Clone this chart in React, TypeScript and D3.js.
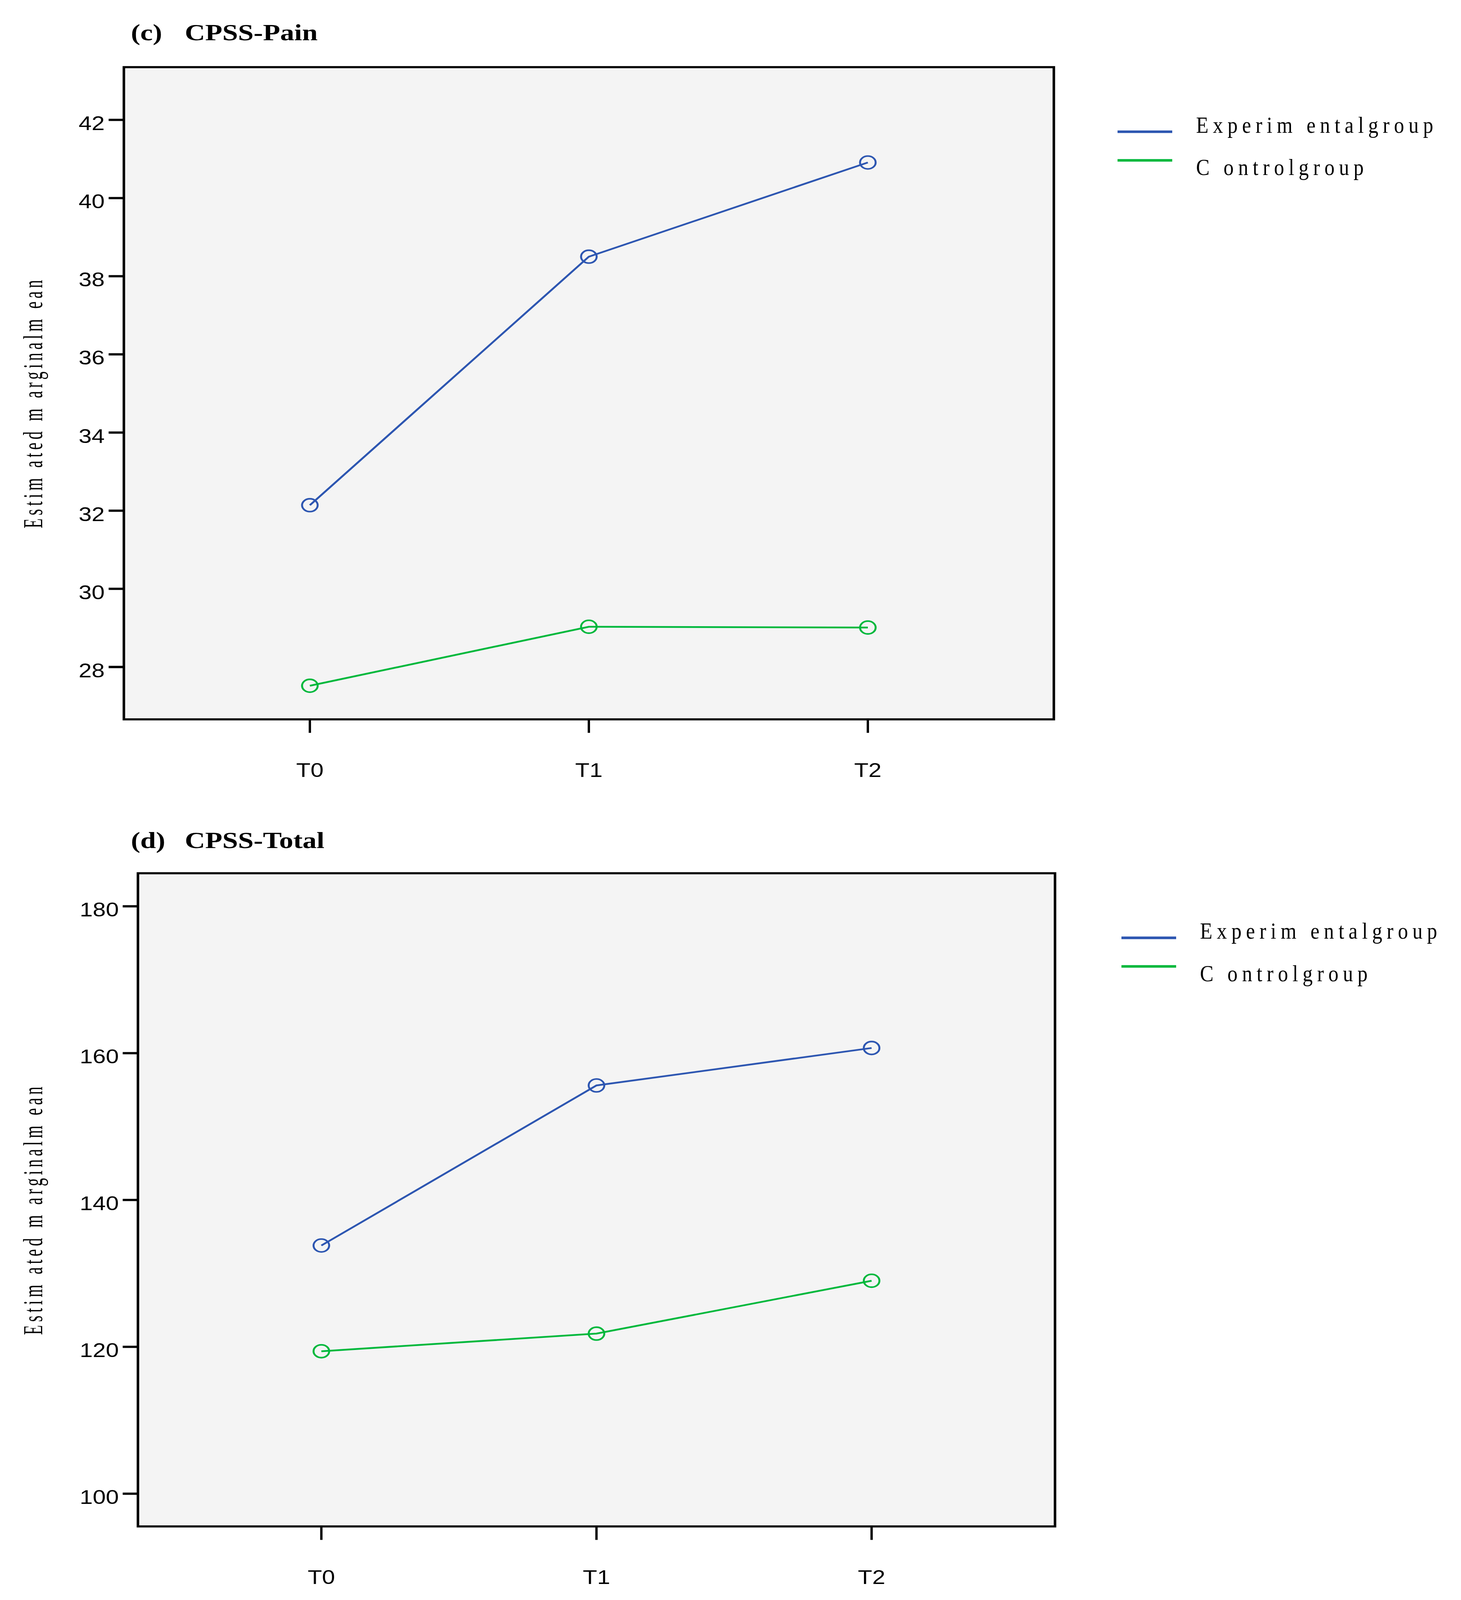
import * as d3 from 'd3'
import React from 'react'

// time points on the x axis
const timepoints = ['T0', 'T1', 'T2']
const groupNames = ['Experim entalgroup', 'C ontrolgroup']
const yAxisLabel = 'Estim ated m arginalm ean'

// (c) CPSS-Pain
const painExperimental = [32.14, 38.5, 40.91]
const painControl = [27.52, 29.03, 29.01]
const painTicks = [28, 30, 32, 34, 36, 38, 40, 42]

// (d) CPSS-Total
const totalExperimental = [133.8, 155.6, 160.7]
const totalControl = [119.4, 121.8, 129.0]
const totalTicks = [100, 120, 140, 160, 180]

const colors = ['#2d56b1', '#00b83c']
const W = 3739
const H = 4980

interface IPanel {
    tag: string
    title: string
    series: number[][]
    ticks: number[]
    domain: [number, number]
    x0: number
    x1: number
    y0: number
    y1: number
    titleY: number
    legendX: number
}

const panels: IPanel[] = [
    {
        tag: '(c)',
        title: 'CPSS-Pain',
        series: [painExperimental, painControl],
        ticks: painTicks,
        domain: [26.66, 43.35],
        x0: 317,
        x1: 2697,
        y0: 209,
        y1: 2239,
        titleY: 125,
        legendX: 2860,
    },
    {
        tag: '(d)',
        title: 'CPSS-Total',
        series: [totalExperimental, totalControl],
        ticks: totalTicks,
        domain: [95.54, 184.5],
        x0: 353,
        x1: 2700,
        y0: 2718,
        y1: 4751,
        titleY: 2640,
        legendX: 2870,
    },
]

const sans = '"Liberation Sans", Arial, sans-serif'
const serif = '"Liberation Serif", "Times New Roman", serif'

const Panel: React.FC<{ p: IPanel }> = ({ p }) => {
    const x = d3.scalePoint<string>().domain(timepoints).range([p.x0, p.x1]).padding(2 / 3)
    const y = d3.scaleLinear().domain(p.domain).range([p.y1, p.y0])
    const line = d3
        .line<number>()
        .x((d, i) => x(timepoints[i]) as number)
        .y((d) => y(d))

    const midY = (p.y0 + p.y1) / 2 + 34

    return (
        <g>
            {/* title */}
            <text x={335} y={p.titleY} fontFamily={serif} fontWeight="bold" fontSize={72}>
                {p.tag}
            </text>
            <text x={473} y={p.titleY} fontFamily={serif} fontWeight="bold" fontSize={72}>
                {p.title}
            </text>

            {/* plot area */}
            <rect
                x={p.x0}
                y={p.y0}
                width={p.x1 - p.x0}
                height={p.y1 - p.y0}
                fill="#f4f4f4"
                stroke="#000"
                strokeWidth={6.5}
            />

            {/* y axis */}
            {p.ticks.map((t) => (
                <g key={t}>
                    <line x1={p.x0 - 39} x2={p.x0} y1={y(t)} y2={y(t)} stroke="#000" strokeWidth={7} />
                    <text
                        x={p.x0 - 49}
                        y={y(t) + 32}
                        textAnchor="end"
                        fontFamily={sans}
                        fontSize={60}
                    >
                        {t}
                    </text>
                </g>
            ))}

            {/* x axis */}
            {timepoints.map((t) => (
                <g key={t}>
                    <line
                        x1={x(t)}
                        x2={x(t)}
                        y1={p.y1 + 2}
                        y2={p.y1 + 42}
                        stroke="#000"
                        strokeWidth={6}
                    />
                    <text
                        x={x(t)}
                        y={p.y1 + 179}
                        textAnchor="middle"
                        fontFamily={sans}
                        fontSize={60}
                    >
                        {t}
                    </text>
                </g>
            ))}

            {/* y label */}
            <text
                transform={`translate(108,${midY}) rotate(-90) scale(0.72,1)`}
                textAnchor="middle"
                fontFamily={serif}
                fontSize={70}
                textLength={773 / 0.72}
                lengthAdjust="spacing"
            >
                {yAxisLabel}
            </text>

            {/* series */}
            {p.series.map((s, si) => (
                <g key={si}>
                    <path d={line(s) || ''} fill="none" stroke={colors[si]} strokeWidth={5.5} />
                    {s.map((v, i) => (
                        <circle
                            key={i}
                            cx={x(timepoints[i])}
                            cy={y(v)}
                            r={20}
                            fill="none"
                            stroke={colors[si]}
                            strokeWidth={5}
                        />
                    ))}
                </g>
            ))}

            {/* legend */}
            {groupNames.map((g, gi) => {
                const ly = p.y0 + (gi === 0 ? 201 : 290)
                const ty = p.y0 + (gi === 0 ? 204 : 336)
                const len = gi === 0 ? 607 : 429
                return (
                    <g key={g}>
                        <line
                            x1={p.legendX}
                            x2={p.legendX + 140}
                            y1={ly}
                            y2={ly}
                            stroke={colors[gi]}
                            strokeWidth={8}
                        />
                        <text
                            transform={`translate(${p.legendX + 201},${ty}) scale(0.72,1)`}
                            fontFamily={serif}
                            fontSize={72}
                            textLength={len / 0.72}
                            lengthAdjust="spacing"
                        >
                            {g}
                        </text>
                    </g>
                )
            })}
        </g>
    )
}

export default function App() {
    // the visible viewport can be shorter than the figure; stretch the drawing to fill it
    const viewH = Math.min(H, window.innerHeight || H)

    return (
        <svg
            width={W}
            height={viewH}
            viewBox={`0 0 ${W} ${H}`}
            preserveAspectRatio="none"
            style={{ display: 'block', margin: -8, background: '#fff' }}
        >
            <rect width={W} height={H} fill="#fff" />
            {panels.map((p) => (
                <Panel key={p.tag} p={p} />
            ))}
        </svg>
    )
}
